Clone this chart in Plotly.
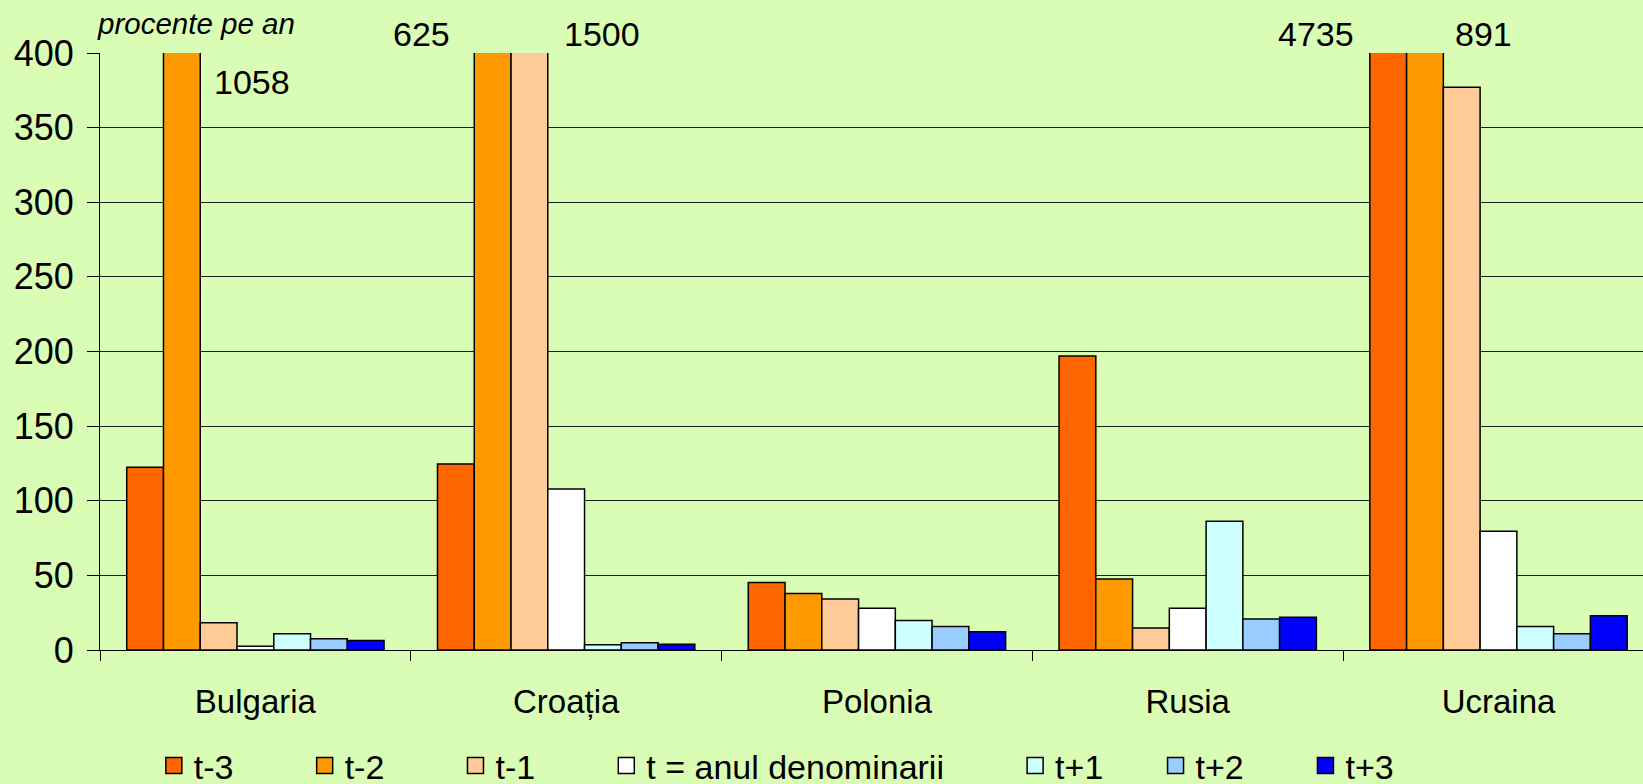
import plotly.graph_objects as go

# categories and series (procente pe an)
countries = ["Bulgaria", "Croația", "Polonia", "Rusia", "Ucraina"]
series_names = ["t-3", "t-2", "t-1", "t = anul denominarii", "t+1", "t+2", "t+3"]

t_minus3 = [122.5, 124.6, 45.2, 197, 4735]
t_minus2 = [1058, 625, 37.8, 47.5, 891]
t_minus1 = [18.3, 1500, 34.2, 14.7, 377]
t_zero = [2.5, 107.8, 28, 28, 79.6]
t_plus1 = [10.9, 3.6, 19.7, 86.3, 15.8]
t_plus2 = [7.5, 4.8, 15.8, 20.8, 10.9]
t_plus3 = [6.3, 3.8, 12.2, 21.9, 23]

series_values = [t_minus3, t_minus2, t_minus1, t_zero, t_plus1, t_plus2, t_plus3]
colors = ["#FF6600", "#FF9900", "#FFCC99", "#FFFFFF", "#CCFFFF", "#99CCFF", "#0000FF"]

BG = "#D9FDB4"
FONT = "Liberation Sans, Arial, sans-serif"
BARGAP = 0.172
Y_MAX = 400

# nbsp padding after legend names to space the entries like the original
legend_pad = [7, 7, 7, 7, 5, 6, 0]

fig = go.Figure()
for name, vals, col, pad in zip(series_names, series_values, colors, legend_pad):
    fig.add_trace(go.Bar(
        x=countries, y=vals, name=name, legendgroup=name, showlegend=False,
        marker=dict(color=col, line=dict(color="black", width=1.5)),
    ))
    # legend-only entry so the key square can be drawn bigger than the bar icon
    fig.add_trace(go.Scatter(
        x=[None], y=[None], mode="markers", name=name + "\u00a0" * pad,
        legendgroup=name, hoverinfo="skip",
        marker=dict(symbol="square", size=16, color=col,
                    line=dict(color="black", width=1.5)),
    ))

# values above the axis maximum are written next to their clipped bars
# (series index, country index, side of bar, gap, vertical shift from plot top)
clipped_labels = [
    (1, 0, "right", 12, -29),
    (1, 1, "left", 22, 19),
    (2, 1, "right", 14, 19),
    (0, 4, "left", 14, 19),
    (1, 4, "right", 10, 19),
]
bar_w = (1 - BARGAP) / len(series_names)
annotations = []
for si, ci, side, gap, dy in clipped_labels:
    center = ci + (si - (len(series_names) - 1) / 2) * bar_w
    if side == "right":
        x, anchor, shift = center + bar_w / 2, "left", gap
    else:
        x, anchor, shift = center - bar_w / 2, "right", -gap
    annotations.append(dict(
        x=x, y=1, xref="x", yref="paper", xanchor=anchor, yanchor="middle",
        xshift=shift, yshift=dy, showarrow=False,
        text=f"{series_values[si][ci]:g}", font=dict(size=34),
    ))

annotations.append(dict(
    x=0, y=1, xref="paper", yref="paper", xanchor="left", yanchor="bottom",
    xshift=-5, yshift=11, showarrow=False, text="<i>procente pe an</i>",
    font=dict(size=29.5),
))

fig.update_layout(
    width=1643, height=784,
    margin=dict(l=100, r=0, t=53, b=134, autoexpand=False),
    paper_bgcolor=BG, plot_bgcolor=BG,
    font=dict(family=FONT, color="black"),
    barmode="group", bargap=BARGAP, bargroupgap=0,
    showlegend=True,
    legend=dict(
        orientation="h", x=0.0349, xanchor="left", y=-0.1455, yanchor="top",
        font=dict(size=34), bgcolor="rgba(0,0,0,0)", itemsizing="trace",
    ),
    annotations=annotations,
)
fig.update_xaxes(
    type="category", range=[-0.5, 4.465],
    tickson="boundaries", ticks="outside", ticklen=10, tickcolor="black",
    showline=True, linecolor="black", linewidth=1, showgrid=False,
    tickfont=dict(size=33), ticklabelstandoff=22,
)
fig.update_yaxes(
    range=[0, Y_MAX], dtick=50,
    showgrid=True, gridcolor="#1f1f1f", gridwidth=1,
    showline=True, linecolor="black", linewidth=1, zeroline=False,
    ticks="outside", ticklen=12, tickcolor="black",
    tickfont=dict(size=36), ticklabelstandoff=6,
)

fig.write_html(
    "out.html",
    config={"displayModeBar": False},
    post_script="document.body.style.margin='0';document.body.style.overflow='hidden';",
)
